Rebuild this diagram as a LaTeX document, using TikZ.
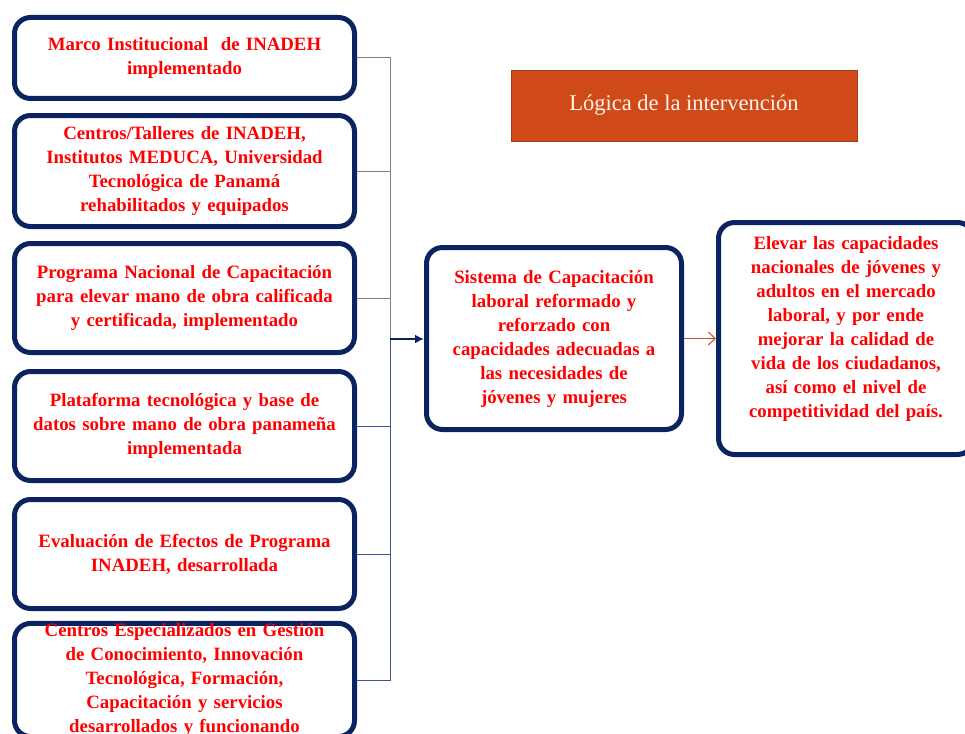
\documentclass[tikz,border=0pt]{standalone}
\usepackage{fontspec}
\setmainfont{Liberation Serif}
\usetikzlibrary{arrows,arrows.meta,positioning,shapes}
\definecolor{navy}{HTML}{0B2360}
\definecolor{busgray}{HTML}{808080}
\definecolor{busblue}{HTML}{3E5796}
\definecolor{rust}{HTML}{D04A19}
\definecolor{arrowrust}{HTML}{C0562E}
\tikzset{
  box/.style={draw=navy,line width=5pt,rounded corners=16pt,fill=white,align=center,
    text=red,font=\fontsize{18.8}{24}\selectfont\bfseries,inner sep=0pt},
  leftbox/.style={box,minimum width=340pt,text width=336pt},
  grayline/.style={draw=busgray,line width=1pt},
  blueline/.style={draw=busblue,line width=1pt}
}
\begin{document}
\begin{tikzpicture}[x=1pt,y=-1pt]
\useasboundingbox (0,0) rectangle (965,733);
\node[leftbox,minimum height=81pt] (b1) at (184.5,58) {Marco Institucional\ \ de INADEH\\implementado};
\node[leftbox,minimum height=111pt] (b2) at (184.5,171) {Centros/Talleres de INADEH,\\Institutos MEDUCA, Universidad\\Tecnológica de Panamá\\rehabilitados y equipados};
\node[leftbox,minimum height=109pt] (b3) at (184.5,298) {Programa Nacional de Capacitación\\para elevar mano de obra calificada\\y certificada, implementado};
\node[leftbox,minimum height=109pt] (b4) at (184.5,426) {Plataforma tecnológica y base de\\datos sobre mano de obra panameña\\implementada};
\node[leftbox,minimum height=109pt] (b5) at (184.5,554) {Evaluación de Efectos de Programa\\INADEH, desarrollada};
\node[leftbox,minimum height=109pt] (b6) at (184.5,680) {Centros Especializados en Gestión\\de Conocimiento, Innovación\\Tecnológica, Formación,\\Capacitación y servicios\\desarrollados y funcionando};
\node[box,minimum width=255pt,minimum height=182pt,text width=250pt] (sistema) at (554,338.5) {Sistema de Capacitación\\laboral reformado y\\reforzado con\\capacidades adecuadas a\\las necesidades de\\jóvenes y mujeres};
\node[box,minimum width=255pt,minimum height=232pt,text width=250pt] (meta) at (846,338.5) {Elevar las capacidades\\nacionales de jóvenes y\\adultos en el mercado\\laboral, y por ende\\mejorar la calidad de\\vida de los ciudadanos,\\así como el nivel de\\competitividad del país.\\[0pt]\mbox{}};
\node[draw=rust!80!black,fill=rust,minimum width=346pt,minimum height=71pt,text=white!92!orange,font=\fontsize{22.5}{26}\selectfont] (titulo) at (684,105.5) {Lógica de la intervención};
\coordinate (bus) at (390,339);
\draw[grayline] (b1.east) -| (bus);
\draw[grayline] (b2.east) -| (bus);
\draw[grayline] (b3.east) -| (bus);
\draw[blueline] (b4.east) -| (bus);
\draw[blueline] (b5.east) -| (bus);
\draw[blueline] (b6.east) -| (bus);
\draw[navy,line width=1.8pt,-{Latex[length=9pt,width=9pt]}] (bus) -- (bus -| sistema.west);
\draw[arrowrust,line width=1pt,-{Straight Barb[length=7pt,width=13pt]}] (sistema.east) -- (meta.west);
\end{tikzpicture}
\end{document}
